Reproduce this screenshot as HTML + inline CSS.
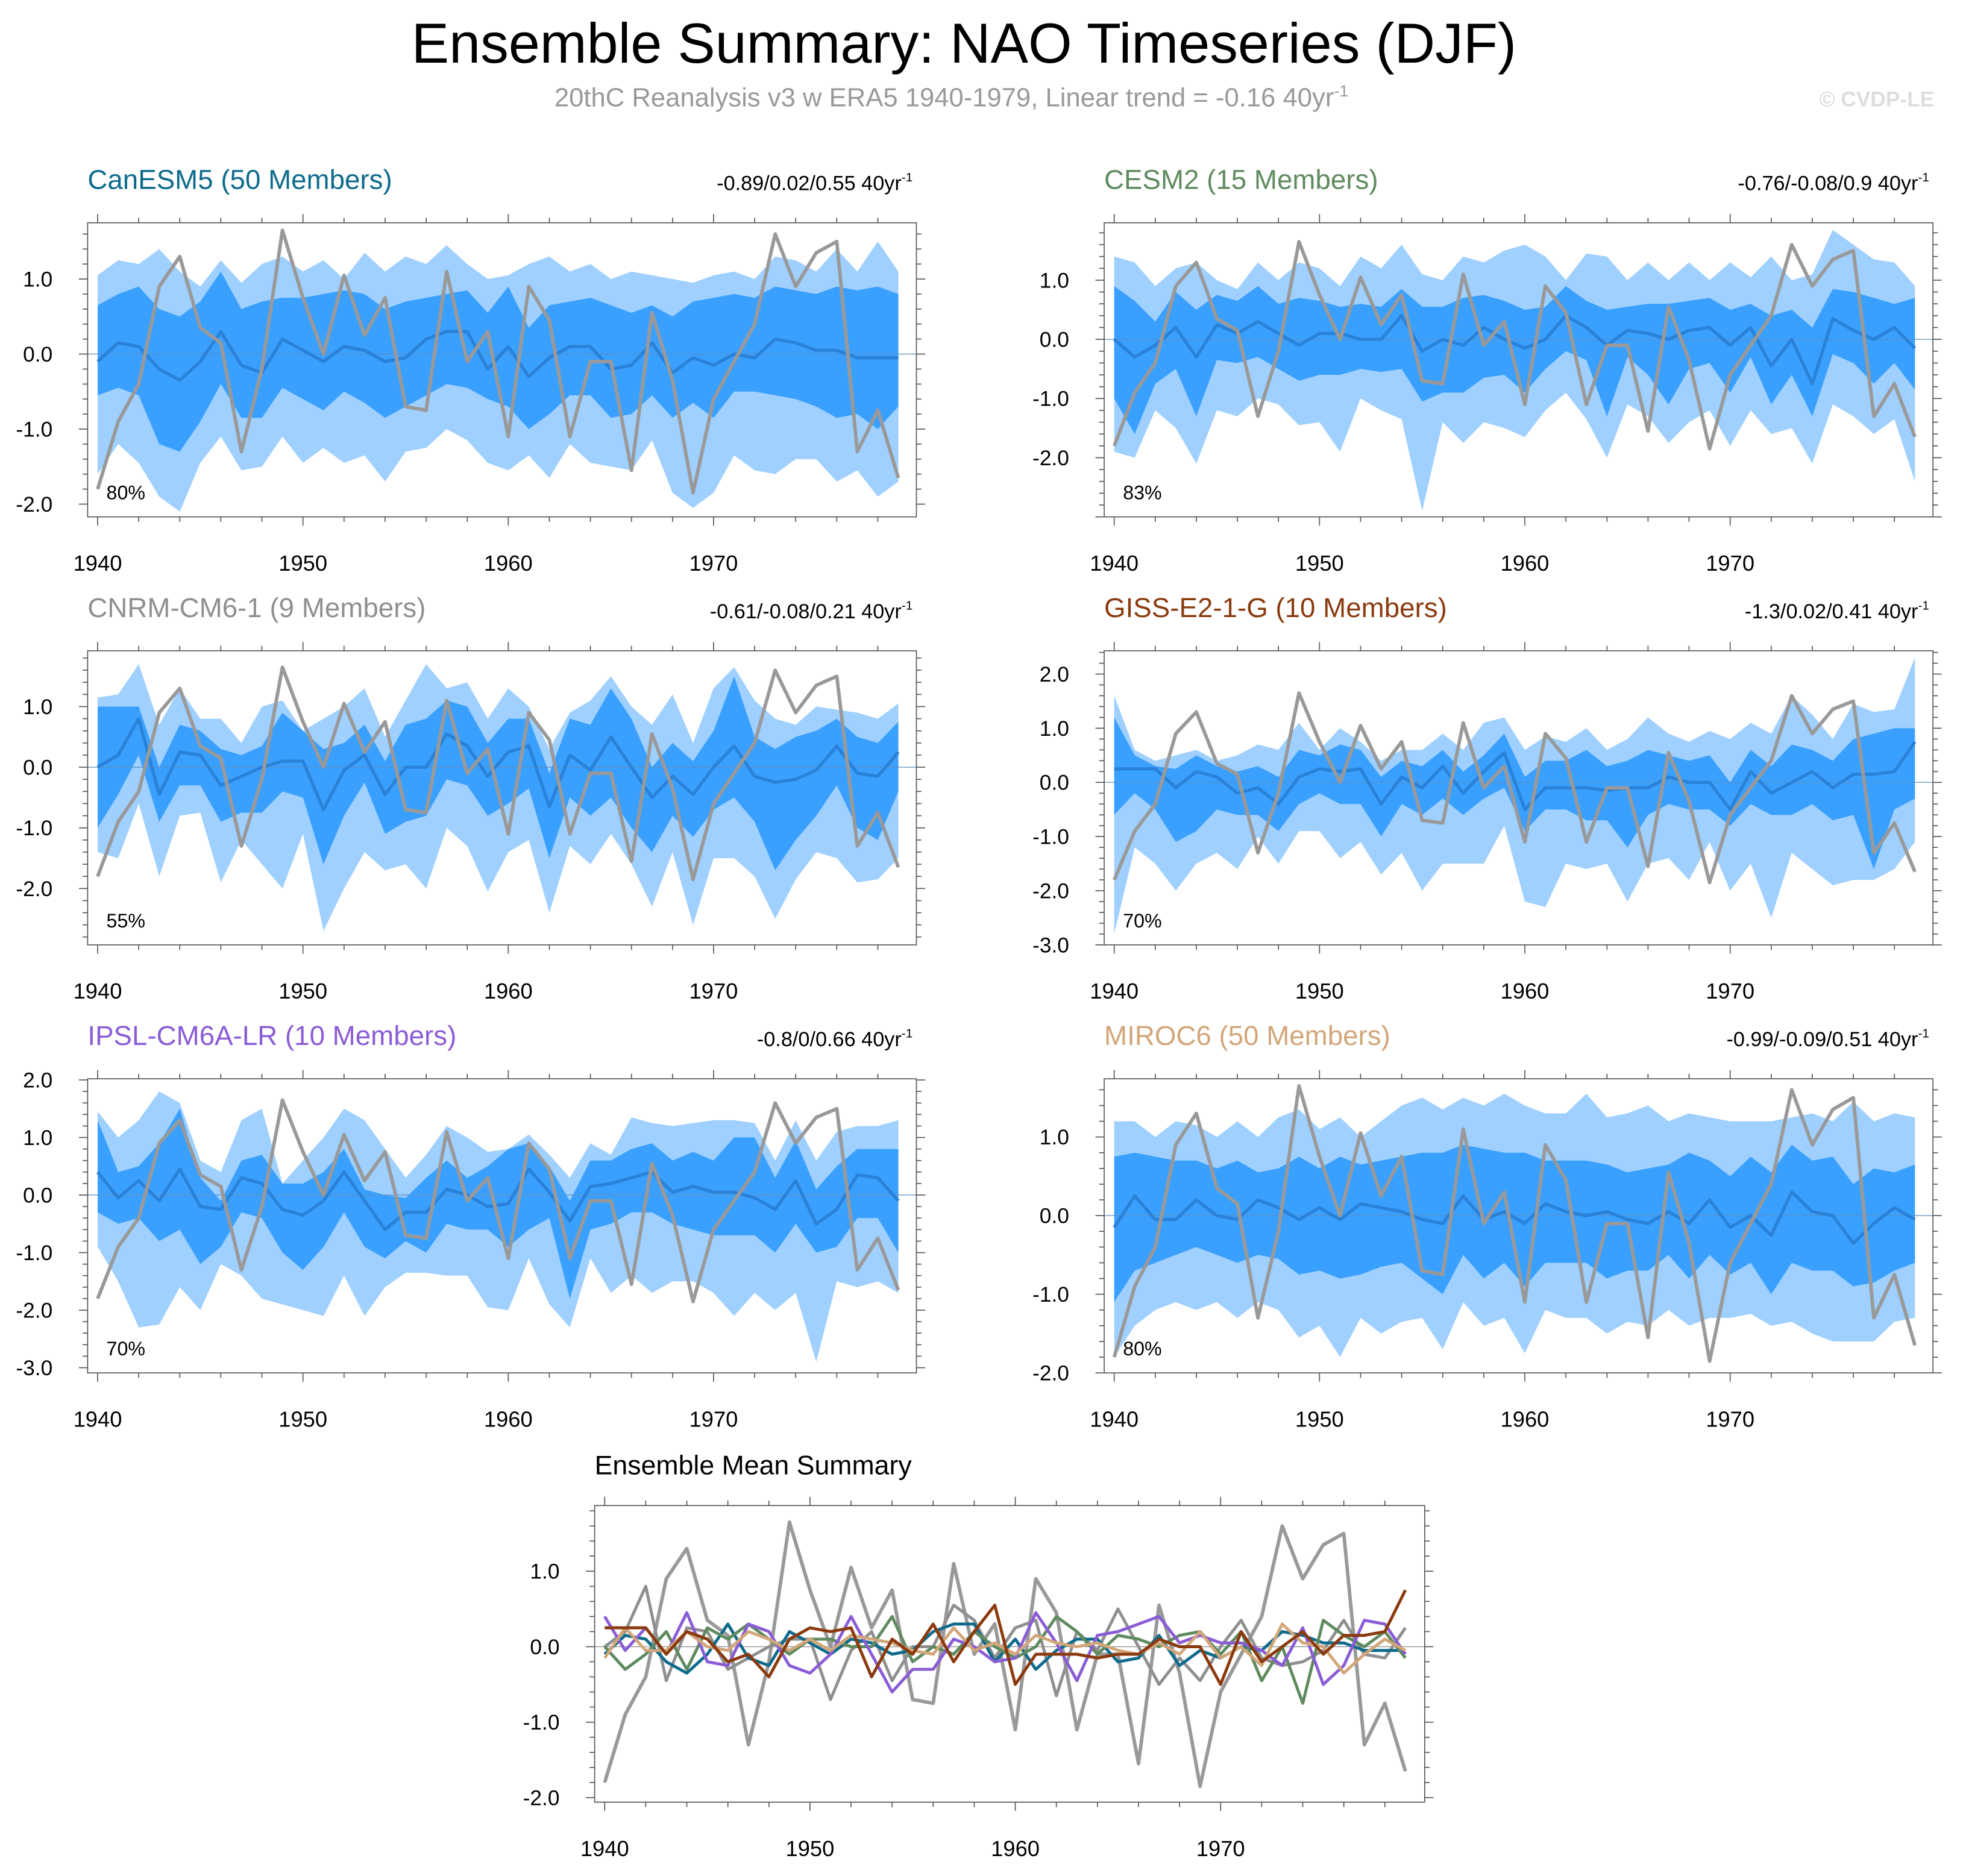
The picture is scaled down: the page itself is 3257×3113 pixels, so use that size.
<!DOCTYPE html>
<html><head><meta charset="utf-8"><style>
html,body{margin:0;padding:0;background:#fff;}
svg{display:block;font-family:"Liberation Sans",Arial,sans-serif;}
</style></head><body>
<svg id="chart" width="3257" height="3113" viewBox="0 0 1568 1499" preserveAspectRatio="none" xmlns="http://www.w3.org/2000/svg">
<rect x="0" y="0" width="1568" height="1499" fill="#fff"/>
<text x="770" y="50" text-anchor="middle" font-size="45">Ensemble Summary: NAO Timeseries (DJF)</text>
<text x="760" y="85" text-anchor="middle" font-size="21" fill="#999">20thC Reanalysis v3 w ERA5 1940-1979, Linear trend = -0.16 40yr<tspan dy="-8" font-size="13">-1</tspan></text>
<text x="1545" y="85" text-anchor="end" font-size="17" font-weight="bold" fill="#ddd">© CVDP-LE</text>
<g id="panels"></g>
</svg>
<script>
const years = Array.from({length:40},(_,i)=>1940+i);
const obs = [-1.8,-0.9,-0.4,0.9,1.3,0.35,0.15,-1.3,-0.2,1.65,0.75,0.0,1.05,0.25,0.75,-0.7,-0.75,1.1,-0.1,0.3,-1.1,0.9,0.45,-1.1,-0.1,-0.1,-1.55,0.55,-0.35,-1.85,-0.6,-0.1,0.4,1.6,0.9,1.35,1.5,-1.3,-0.75,-1.65];

const canMean=[-0.1,0.15,0.1,-0.2,-0.35,-0.1,0.3,-0.15,-0.25,0.2,0.05,-0.1,0.1,0.05,-0.1,-0.05,0.2,0.3,0.3,-0.2,0.1,-0.3,-0.05,0.1,0.1,-0.2,-0.15,0.15,-0.25,-0.05,-0.15,0.0,-0.05,0.2,0.15,0.05,0.05,-0.05,-0.05,-0.05];
const canOHi=[1.05,1.25,1.2,1.4,1.1,0.9,1.25,0.95,1.2,1.3,1.1,1.25,1.0,1.35,1.1,1.3,1.2,1.45,1.2,1.0,1.05,1.2,1.3,1.1,1.2,1.0,1.1,1.05,1.0,0.95,1.05,1.1,1.0,1.3,1.25,1.1,1.4,1.1,1.5,1.1];
const canIHi=[0.65,0.8,0.9,0.6,0.5,0.7,1.1,0.6,0.7,0.75,0.75,0.8,0.85,0.8,0.6,0.7,0.75,0.8,0.85,0.55,0.9,0.35,0.65,0.7,0.75,0.65,0.55,0.65,0.5,0.7,0.75,0.8,0.75,0.9,0.85,0.8,0.9,0.85,0.9,0.8];
const canILo=[-0.55,-0.45,-0.55,-1.2,-1.3,-0.9,-0.4,-0.85,-0.85,-0.45,-0.6,-0.75,-0.5,-0.65,-0.85,-0.7,-0.55,-0.4,-0.45,-0.6,-0.7,-1.0,-0.8,-0.55,-0.55,-0.85,-0.8,-0.55,-0.85,-0.65,-0.85,-0.5,-0.5,-0.55,-0.6,-0.7,-0.85,-0.8,-1.0,-0.7];
const canOLo=[-1.6,-1.2,-1.45,-1.9,-2.1,-1.45,-1.1,-1.55,-1.5,-1.1,-1.45,-1.25,-1.45,-1.35,-1.7,-1.3,-1.25,-1.0,-1.15,-1.45,-1.55,-1.35,-1.65,-1.2,-1.45,-1.5,-1.55,-1.15,-1.85,-2.05,-1.85,-1.35,-1.55,-1.6,-1.4,-1.4,-1.7,-1.55,-1.9,-1.7];

const cesMean=[0.0,-0.3,-0.1,0.2,-0.3,0.25,0.1,0.3,0.1,-0.1,0.1,0.1,0.0,0.0,0.4,-0.2,0.0,-0.1,0.2,0.0,-0.15,0.0,0.4,0.2,-0.1,0.15,0.1,0.0,0.15,0.2,-0.1,0.2,-0.45,0.0,-0.75,0.35,0.15,0.0,0.2,-0.15];
const cesOHi=[1.4,1.3,0.9,1.2,1.3,1.0,0.85,1.3,1.0,1.3,1.2,0.9,1.4,1.2,1.6,1.1,1.0,1.4,1.3,1.5,1.6,1.4,1.0,1.45,1.4,1.0,1.3,1.0,1.3,1.0,1.3,1.05,1.4,1.0,1.1,1.85,1.6,1.35,1.3,0.9];
const cesIHi=[0.9,0.65,0.3,0.8,0.5,0.75,0.65,0.9,0.6,0.7,0.65,0.55,0.6,0.55,0.85,0.55,0.55,0.7,0.75,0.65,0.5,0.55,0.9,0.65,0.5,0.55,0.6,0.6,0.65,0.7,0.5,0.6,0.4,0.5,0.2,0.85,0.8,0.7,0.6,0.7];
const cesILo=[-1.0,-1.6,-0.75,-0.5,-1.3,-0.35,-0.4,-0.3,-0.5,-0.7,-0.6,-0.6,-0.5,-0.55,-0.5,-1.05,-0.9,-0.9,-0.65,-0.6,-0.9,-0.5,-0.2,-0.35,-1.3,-0.3,-0.6,-1.1,-0.5,-0.4,-0.9,-0.3,-1.1,-0.6,-1.3,-0.25,-0.4,-0.75,-0.4,-0.85];
const cesOLo=[-1.9,-2.0,-1.2,-1.5,-2.1,-1.2,-1.3,-1.0,-1.1,-1.45,-1.4,-1.9,-1.0,-1.2,-1.35,-2.9,-1.4,-1.75,-1.4,-1.5,-1.65,-1.2,-0.9,-1.35,-2.0,-1.1,-1.3,-1.75,-1.4,-1.2,-1.8,-1.2,-1.6,-1.5,-2.1,-1.1,-1.3,-1.6,-1.35,-2.4];

const cnrMean=[0.0,0.2,0.8,-0.45,0.25,0.2,-0.3,-0.15,0.0,0.1,0.1,-0.7,-0.05,0.2,-0.45,0.0,0.0,0.55,0.35,-0.15,0.25,0.35,-0.65,0.2,-0.05,0.5,0.0,-0.5,-0.15,-0.45,0.0,0.35,-0.15,-0.25,-0.2,-0.05,0.35,-0.1,-0.15,0.25];
const cnrOHi=[1.15,1.2,1.7,0.7,1.3,0.8,0.8,0.4,1.0,1.1,0.6,0.8,1.0,1.3,0.5,1.1,1.7,1.3,1.4,0.8,1.3,1.0,0.3,0.9,1.1,1.5,1.0,0.7,1.2,0.4,1.3,1.65,1.1,0.8,0.7,1.0,0.95,0.9,0.8,1.05];
const cnrIHi=[1.0,1.0,1.0,0.0,0.7,0.6,0.3,0.2,0.35,0.9,0.6,0.3,0.4,0.7,0.1,0.7,0.8,1.1,1.0,0.4,0.8,0.8,-0.1,0.8,0.7,1.3,0.8,0.0,0.4,0.1,0.6,1.5,0.5,0.3,0.5,0.6,0.8,0.5,0.4,0.75];
const cnrILo=[-1.0,-0.45,0.2,-0.9,-0.3,-0.3,-0.9,-0.75,-0.75,-0.4,-0.5,-1.6,-0.8,-0.25,-1.1,-0.9,-0.8,-0.2,-0.3,-0.8,-0.6,-0.35,-1.5,-0.5,-0.8,-0.5,-1.0,-1.4,-0.8,-1.15,-0.7,-0.5,-0.9,-1.7,-1.2,-0.8,-0.3,-1.0,-1.2,-0.4];
const cnrOLo=[-1.4,-1.5,-0.6,-1.8,-0.8,-0.75,-1.9,-1.2,-1.6,-2.0,-1.1,-2.7,-2.0,-1.4,-1.7,-1.6,-2.0,-1.0,-1.3,-2.05,-1.4,-1.2,-2.4,-1.3,-1.6,-1.1,-1.6,-2.3,-1.4,-2.6,-1.5,-1.5,-1.8,-2.5,-1.85,-1.4,-1.5,-1.9,-1.85,-1.5];

const gisMean=[0.25,0.25,0.25,-0.1,0.2,0.1,-0.2,-0.1,-0.4,0.1,0.25,0.2,0.25,-0.4,0.1,-0.1,0.3,-0.2,0.2,0.55,-0.5,-0.1,-0.1,-0.1,-0.15,-0.1,-0.1,0.1,0.0,0.0,-0.5,0.2,-0.2,0.0,0.2,-0.1,0.15,0.15,0.2,0.75];
const gisOHi=[1.6,0.6,0.4,0.5,0.6,0.4,0.5,0.7,0.6,1.1,0.6,1.0,0.75,0.4,0.6,0.6,0.9,0.6,1.1,1.2,0.6,0.85,0.75,1.0,0.6,0.8,1.2,0.9,0.75,0.95,0.8,1.1,0.9,1.6,1.25,0.8,1.45,1.3,1.35,2.3];
const gisIHi=[1.2,0.5,0.3,0.25,0.5,0.3,0.2,0.3,0.1,0.6,0.5,0.7,0.6,0.1,0.4,0.3,0.6,0.2,0.5,0.9,0.1,0.4,0.4,0.6,0.3,0.4,0.6,0.5,0.4,0.5,0.0,0.6,0.3,0.7,0.6,0.4,0.8,0.9,1.0,1.0];
const gisILo=[-0.6,-0.2,-0.5,-1.1,-0.9,-0.5,-0.6,-0.6,-0.9,-0.4,-0.2,-0.4,-0.4,-1.0,-0.4,-0.6,-0.3,-0.6,-0.3,-0.1,-0.9,-0.5,-0.5,-0.7,-0.7,-1.2,-0.6,-0.4,-0.5,-0.5,-0.8,-0.4,-0.6,-0.6,-0.4,-0.7,-0.6,-1.6,-0.5,-0.3];
const gisOLo=[-2.8,-1.2,-1.5,-2.0,-1.5,-1.3,-1.6,-1.0,-1.5,-0.9,-0.9,-1.4,-1.1,-1.7,-1.3,-2.0,-1.5,-1.5,-1.5,-0.8,-2.2,-2.3,-1.5,-1.6,-1.5,-2.2,-1.5,-1.4,-1.8,-1.1,-2.0,-1.5,-2.5,-1.3,-1.6,-1.9,-1.8,-1.8,-1.6,-1.1];

const ipsMean=[0.4,-0.05,0.25,-0.1,0.45,-0.2,-0.25,0.3,0.2,-0.25,-0.35,-0.1,0.4,-0.1,-0.6,-0.3,-0.3,0.1,0.0,-0.2,-0.15,0.45,0.05,-0.45,0.15,0.2,0.3,0.4,0.05,0.15,0.05,0.05,-0.05,-0.25,0.25,-0.5,-0.25,0.35,0.3,-0.1];
const ipsOHi=[1.45,1.0,1.3,1.8,1.6,0.6,0.4,1.3,1.5,0.2,0.6,1.0,1.5,1.3,0.8,0.3,0.7,1.2,1.0,0.75,0.8,1.05,0.7,0.3,0.9,0.7,1.35,1.25,1.2,1.25,1.3,1.3,1.25,0.6,1.3,0.6,1.1,1.2,1.2,1.3];
const ipsIHi=[1.3,0.4,0.5,0.9,1.5,0.3,-0.1,0.6,0.7,0.2,0.2,0.4,0.8,0.1,0.0,-0.05,0.3,0.6,0.3,0.5,0.8,0.9,0.5,-0.1,0.6,0.6,0.8,0.9,0.6,0.75,0.6,1.0,1.0,0.3,0.95,0.1,0.5,0.8,0.8,0.8];
const ipsILo=[-0.3,-0.5,-0.4,-0.8,-0.6,-1.2,-0.9,-0.3,-0.4,-1.0,-1.3,-0.9,-0.3,-0.9,-1.1,-0.8,-1.0,-0.5,-0.6,-0.6,-0.9,-0.6,-0.4,-1.8,-0.6,-0.5,-0.3,-0.3,-0.5,-0.6,-0.7,-0.7,-0.7,-1.0,-0.5,-1.0,-0.9,-0.4,-0.4,-1.0];
const ipsOLo=[-0.9,-1.5,-2.3,-2.25,-1.6,-2.0,-1.2,-1.4,-1.8,-1.9,-2.0,-2.1,-1.4,-2.1,-1.6,-1.35,-1.35,-1.4,-1.4,-1.95,-2.0,-1.1,-1.9,-2.3,-1.1,-1.7,-1.4,-1.7,-1.5,-1.5,-1.7,-2.1,-1.7,-2.0,-1.7,-2.9,-1.5,-1.6,-1.5,-1.7];

const mirMean=[-0.15,0.25,-0.05,-0.05,0.2,0.0,-0.05,0.2,0.1,-0.05,0.1,-0.05,0.15,0.1,0.05,-0.05,-0.1,0.25,-0.05,0.05,-0.1,0.15,0.05,0.0,0.05,-0.05,-0.1,0.05,-0.1,0.2,-0.15,0.0,-0.25,0.3,0.05,0.0,-0.35,-0.1,0.1,-0.05];
const mirOHi=[1.2,1.2,1.0,1.2,1.15,1.0,1.2,1.0,1.25,1.35,1.1,1.25,1.0,1.2,1.4,1.5,1.35,1.5,1.4,1.55,1.4,1.3,1.3,1.55,1.25,1.3,1.4,1.2,1.3,1.25,1.2,1.2,1.2,1.25,1.3,1.2,1.45,1.2,1.3,1.25];
const mirIHi=[0.75,0.8,0.75,0.7,0.7,0.6,0.7,0.55,0.6,0.75,0.6,0.75,0.65,0.7,0.75,0.8,0.8,0.9,0.85,0.8,0.8,0.7,0.7,0.7,0.65,0.55,0.6,0.65,0.8,0.7,0.5,0.75,0.55,0.9,0.7,0.75,0.4,0.6,0.55,0.65];
const mirILo=[-1.1,-0.7,-0.6,-0.5,-0.4,-0.5,-0.6,-0.5,-0.55,-0.75,-0.7,-0.8,-0.75,-0.65,-0.6,-0.8,-1.0,-0.5,-0.8,-0.6,-0.9,-0.6,-0.6,-0.6,-0.8,-0.7,-0.7,-0.5,-0.8,-0.5,-0.75,-0.6,-1.0,-0.6,-0.7,-0.7,-0.9,-0.85,-0.7,-0.6];
const mirOLo=[-1.8,-1.4,-1.2,-1.1,-1.2,-1.1,-1.3,-1.1,-1.2,-1.55,-1.4,-1.8,-1.3,-1.5,-1.35,-1.3,-1.7,-1.1,-1.4,-1.3,-1.75,-1.2,-1.3,-1.3,-1.5,-1.35,-1.4,-1.2,-1.4,-1.3,-1.3,-1.25,-1.4,-1.35,-1.5,-1.6,-1.6,-1.6,-1.35,-1.3];

const xTicks=[1940,1950,1960,1970];
const modelNames=["CanESM5 (50 Members)","CESM2 (15 Members)","CNRM-CM6-1 (9 Members)","GISS-E2-1-G (10 Members)","IPSL-CM6A-LR (10 Members)","MIROC6 (50 Members)"];
const trendLabels=["-0.89/0.02/0.55 40yr","-0.76/-0.08/0.9 40yr","-0.61/-0.08/0.21 40yr","-1.3/0.02/0.41 40yr","-0.8/0/0.66 40yr","-0.99/-0.09/0.51 40yr"];
const pctLabels=["80%","83%","55%","70%","70%","80%"];
const yTickSets=[[1,0,-1,-2],[1,0,-1,-2],[1,0,-1,-2],[2,1,0,-1,-2,-3],[2,1,0,-1,-2,-3],[1,0,-1,-2]];

const NS="http://www.w3.org/2000/svg";
const root=document.getElementById('panels');
function el(tag,attrs,parent,text){const e=document.createElementNS(NS,tag);for(const k in attrs)e.setAttribute(k,attrs[k]);if(text!==undefined)e.textContent=text;(parent||root).appendChild(e);return e;}

const colors=["#0e6b8c","#5f8a5f","#8f8f8f","#8b3a0e","#8a5cd6","#d2a679"];
const panels=[
 {x:70,y:178,top:1.75,bot:-2.17,mean:canMean,oHi:canOHi,iHi:canIHi,iLo:canILo,oLo:canOLo},
 {x:882,y:178,top:1.97,bot:-3.0,mean:cesMean,oHi:cesOHi,iHi:cesIHi,iLo:cesILo,oLo:cesOLo},
 {x:70,y:520,top:1.92,bot:-2.93,mean:cnrMean,oHi:cnrOHi,iHi:cnrIHi,iLo:cnrILo,oLo:cnrOLo},
 {x:882,y:520,top:2.43,bot:-3.0,mean:gisMean,oHi:gisOHi,iHi:gisIHi,iLo:gisILo,oLo:gisOLo},
 {x:70,y:862,top:2.02,bot:-3.09,mean:ipsMean,oHi:ipsOHi,iHi:ipsIHi,iLo:ipsILo,oLo:ipsOLo},
 {x:882,y:862,top:1.74,bot:-2.0,mean:mirMean,oHi:mirOHi,iHi:mirIHi,iLo:mirILo,oLo:mirOLo}
];
const W=662,H=235;

function axes(g,x0,y0,w,h,top,bot){
  const sx=yr=>x0+8+(yr-1940)*16.4;
  const sy=v=>y0+(top-v)/(top-bot)*h;
  return {sx,sy};
}
function frame(g,x0,y0,w,h,top,bot,yt,sx,sy){
  const b=el('rect',{x:x0,y:y0,width:w,height:h,fill:'none',stroke:'#555','stroke-width':0.8},g);
  
  
  for(let yr=1940;yr<=1979;yr+=2){
    const maj=(yr%10===0);const L=maj?7:4;
    el('line',{x1:sx(yr),x2:sx(yr),y1:y0+h,y2:y0+h+L,stroke:'#555','stroke-width':0.8},g);
    el('line',{x1:sx(yr),x2:sx(yr),y1:y0,y2:y0-L,stroke:'#555','stroke-width':0.8},g);
  }
  xTicks.forEach(yr=>{
    const t=el('text',{x:sx(yr),y:y0+h+43,'text-anchor':'middle','font-size':17.5},g,String(yr));
    
    
  });
  const lo=Math.ceil(bot*5),hi=Math.floor(top*5);
  for(let k=lo;k<=hi;k++){
    const v=k/5;const maj=(k%5===0);const L=maj?7:4;
    el('line',{x1:x0,x2:x0-L,y1:sy(v),y2:sy(v),stroke:'#555','stroke-width':0.8},g);
    el('line',{x1:x0+w,x2:x0+w+L,y1:sy(v),y2:sy(v),stroke:'#555','stroke-width':0.8},g);
  }
  yt.forEach(v=>{
    const t=el('text',{x:x0-28,y:sy(v)+6,'text-anchor':'end','font-size':17},g,v.toFixed(1));
    
    
  });
}
function band(g,hi,lo,sx,sy,fill,name){
  let d='M'+years.map((yr,i)=>sx(yr)+','+sy(hi[i])).join('L');
  d+='L'+years.slice().reverse().map((yr,j)=>{const i=39-j;return sx(yr)+','+sy(lo[i]);}).join('L')+'Z';
  const p=el('path',{d:d,fill:fill,stroke:'none'},g);
  
  
}
function line(g,vals,sx,sy,color,wd,name){
  const p=el('polyline',{points:years.map((yr,i)=>sx(yr)+','+sy(vals[i])).join(' '),fill:'none',stroke:color,'stroke-width':wd,'stroke-linejoin':'round'},g);
  
  
}

panels.forEach((p,k)=>{
  const g=el('g',{});
  
  
  const {sx,sy}=axes(g,p.x,p.y,W,H,p.top,p.bot);
  band(g,p.oHi,p.oLo,sx,sy,'#9fd0ff','outer-spread-band');
  band(g,p.iHi,p.iLo,sx,sy,'#3aa0ff','inner-spread-band');
  const z=el('line',{x1:p.x,x2:p.x+W,y1:sy(0),y2:sy(0),stroke:'#5a8fc0','stroke-width':0.6},g);
  
  
  line(g,p.mean,sx,sy,'#2a82d8',2.6,'ensemble-mean-line');
  line(g,obs,sx,sy,'#999',2.8,'observed-line');
  frame(g,p.x,p.y,W,H,p.top,p.bot,yTickSets[k],sx,sy);
  const t=el('text',{x:p.x,y:p.y-27,'font-size':22,fill:colors[k]},g,modelNames[k]);
  
  
  const r=el('text',{x:p.x+W-3,y:p.y-26,'text-anchor':'end','font-size':16.5},g,trendLabels[k]);
  
  
  el('tspan',{dy:-7,'font-size':10},r,'-1');
  const pc=el('text',{x:p.x+15,y:p.y+H-14,'font-size':15.5},g,pctLabels[k]);
  
  
});

// bottom summary
(function(){
  const x0=475,y0=1203,w=663,h=237,top=1.87,bot=-2.06;
  const g=el('g',{});
  
  
  const {sx,sy}=axes(g,x0,y0,w,h,top,bot);
  const z=el('line',{x1:x0,x2:x0+w,y1:sy(0),y2:sy(0),stroke:'#888','stroke-width':0.6},g);
  
  
  line(g,obs,sx,sy,'#999',2.8,'observed-line');
  const means=[canMean,cesMean,cnrMean,gisMean,ipsMean,mirMean];
  [2,0,1,4,5,3].forEach(k=>line(g,means[k],sx,sy,colors[k],2.4,'model-mean-line-'+k));
  frame(g,x0,y0,w,h,top,bot,[1,0,-1,-2],sx,sy);
  const t=el('text',{x:x0,y:y0-25,'font-size':21.5},g,'Ensemble Mean Summary');
  
  
})();
</script>
</body></html>
